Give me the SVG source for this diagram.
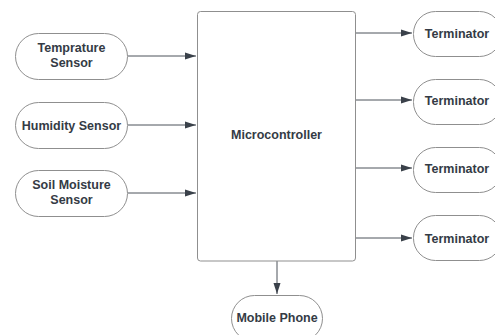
<svg xmlns="http://www.w3.org/2000/svg" width="495" height="335" viewBox="0 0 495 335">
<defs>
<marker id="ah" markerWidth="12" markerHeight="8" refX="11" refY="4" orient="auto" markerUnits="userSpaceOnUse">
<path d="M0,0.5 L11,4 L0,7.5 Z" fill="#3a414a"/>
</marker>
<style>
.n{fill:#fff;stroke:#8f8f8f;stroke-width:1}
.t{font-family:"Liberation Sans",Arial,sans-serif;font-size:12.5px;font-weight:bold;fill:#343b45;text-anchor:middle}
.c{stroke:#4d535b;stroke-width:1;fill:none;marker-end:url(#ah)}
</style>
</defs>
<rect width="495" height="335" fill="#fff"/>
<g id="connectors">
<line class="c" x1="128" y1="56" x2="196" y2="56"/>
<line class="c" x1="128" y1="125" x2="196" y2="125"/>
<line class="c" x1="128" y1="193" x2="196" y2="193"/>
<line class="c" x1="356" y1="33" x2="412" y2="33"/>
<line class="c" x1="356" y1="100" x2="412" y2="100"/>
<line class="c" x1="356" y1="168" x2="412" y2="168"/>
<line class="c" x1="356" y1="238" x2="412" y2="238"/>
<line class="c" x1="277" y1="261" x2="277" y2="294"/>
</g>
<g id="temp"><rect class="n" x="15.5" y="33.5" width="112" height="46" rx="23"/><text class="t" x="71.5" y="52">Temprature</text><text class="t" x="71.5" y="67">Sensor</text></g>
<g id="humidity"><rect class="n" x="15.5" y="102.5" width="112" height="46" rx="23"/><text class="t" x="71.5" y="129.5">Humidity Sensor</text></g>
<g id="soil"><rect class="n" x="15.5" y="170.5" width="112" height="46" rx="23"/><text class="t" x="71.5" y="189">Soil Moisture</text><text class="t" x="71.5" y="204">Sensor</text></g>
<g id="micro"><rect class="n" x="197.5" y="11.5" width="158" height="249.5" rx="3"/><text class="t" x="276.5" y="138.5">Microcontroller</text></g>
<g id="term1"><rect class="n" x="413.5" y="11.5" width="88" height="45" rx="22"/><text class="t" x="457" y="37.5">Terminator</text></g>
<g id="term2"><rect class="n" x="413.5" y="79.5" width="88" height="45" rx="22"/><text class="t" x="457" y="105">Terminator</text></g>
<g id="term3"><rect class="n" x="413.5" y="147.5" width="88" height="45" rx="22"/><text class="t" x="457" y="173">Terminator</text></g>
<g id="term4"><rect class="n" x="413.5" y="215.5" width="88" height="45" rx="22"/><text class="t" x="457" y="242.5">Terminator</text></g>
<g id="mobile"><rect class="n" x="231.5" y="295.5" width="91" height="46" rx="23"/><text class="t" x="277" y="322">Mobile Phone</text></g>
</svg>
